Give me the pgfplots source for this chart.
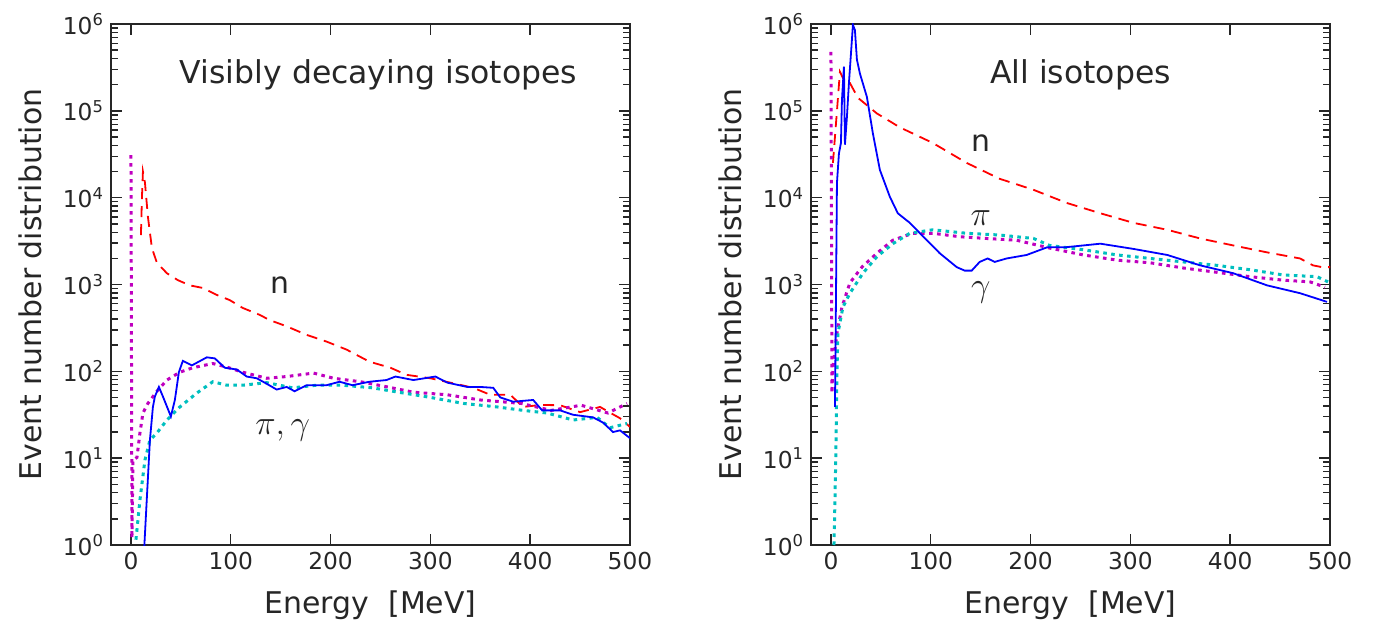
\documentclass[border=0pt]{standalone}
\usepackage{fontspec}
\setmainfont{DejaVu Sans}
\usepackage{pgfplots}
\pgfplotsset{compat=1.18}
\definecolor{axgray}{HTML}{262626}
\definecolor{mmag}{rgb}{0.75,0,0.75}
\definecolor{mcyan}{rgb}{0,0.75,0.75}

\pgfplotsset{
  evt/.style={
    scale only axis, width=259.5bp, height=260.5bp,
    xmin=-20, xmax=500, ymin=1, ymax=1e6,
    xtick={0,100,200,300,400,500},
    ytick={1,10,100,1000,10000,100000,1000000},
    yticklabels={10\textsuperscript{0},10\textsuperscript{1},10\textsuperscript{2},10\textsuperscript{3},10\textsuperscript{4},10\textsuperscript{5},10\textsuperscript{6}},
    minor ytick={2,3,4,5,6,7,8,9,20,30,40,50,60,70,80,90,200,300,400,500,600,700,800,900,
      2000,3000,4000,5000,6000,7000,8000,9000,20000,30000,40000,50000,60000,70000,80000,90000,
      200000,300000,400000,500000,600000,700000,800000,900000},
    tick align=inside, tick pos=both,
    major tick length=5.5bp, minor tick length=3.5bp,
    axis line style={axgray, line width=0.9bp},
    every tick/.append style={axgray, line width=0.7bp},
    tick label style={font=\fontsize{11.7}{14}\selectfont, text=axgray},
    label style={font=\fontsize{15}{18}\selectfont, text=axgray},
    /pgf/number format/assume math mode=true,
    xlabel={Energy\ \ [MeV]},
    ylabel={Event number distribution},
    ylabel style={at={(axis description cs:-0.156,0.5)}, anchor=center},
    xlabel style={at={(axis description cs:0.5,-0.115)}, anchor=center},
  },
  nline/.style={red, line width=0.9bp, dash pattern=on 5.5bp off 3.5bp},
  gline/.style={blue, line width=0.9bp},
  pline/.style={mmag, line width=1.5bp, dash pattern=on 1.8bp off 2.2bp},
  cline/.style={mcyan, line width=1.5bp, dash pattern=on 1.8bp off 2.2bp},
}
\tikzset{
  lab/.style={font=\fontsize{15}{18}\selectfont, text=axgray},
  ttl/.style={font=\fontsize{15.8}{19}\selectfont, text=axgray},
  mlab/.style={font=\fontsize{17.5}{20}\selectfont, text=axgray},
}

\begin{document}
\begin{tikzpicture}
\begin{axis}[ymode=log, evt]
  % neutrons
  \addplot[nline] coordinates {
    (10,3715)(11,10000)(12,19953)(14,15000)(17,6000)(21,2630)(26,1778)(36,1349)
    (47,1122)(59,977)(72,912)(86,759)(99,661)(112,537)(129,447)(139,389)(156,330)
    (176,263)(196,220)(216,178)(239,129)(260,110)(276,91.2)(300,83.2)(320,74.1)
    (343,64.6)(360,53.7)(380,53.7)(393,38.9)(410,41)(430,40.7)(450,33.9)(470,38.9)
    (490,28.8)(500,22.9)};
  % pions
  \addplot[pline] coordinates {
    (0,30903)(1,1.2)(2,9.5)(6,10.2)(9,19.5)(12,33.1)(17,42.7)(26,58.9)(36,79.4)
    (49,97.7)(62,110)(82,123)(96,112)(112,97.7)(136,83.2)(156,87.1)(183,95.5)
    (203,83.2)(230,75.9)(257,66.1)(283,57.5)(317,53.7)(350,46.8)(391,42.7)
    (421,35.5)(451,40.7)(478,33.1)(497,42.7)};
  \addplot[cline] coordinates {
    (5,1.15)(9,3.3)(14,9.5)(19,16.2)(26,19.5)(36,27.5)(49,38.9)(66,56.2)(82,75.9)
    (96,69.2)(112,69.2)(136,74.1)(162,64.6)(186,69.2)(212,69.2)(242,64.6)(266,58)
    (300,50.1)(333,42.7)(367,38.9)(393,35.5)(417,33.1)(443,27.5)(467,29.5)
    (480,22.4)(497,25.1)};
  % gammas
  \addplot[gline] coordinates {
    (13,0.8)(19,16.2)(22,38.9)(24,51.3)(28,66.1)(32,51.3)(40,30.2)(44,46.8)(48,97.7)
    (52,132)(61,117)(76,145)(84,141)(94,110)(106,105)(116,87.1)(126,83.2)(134,74.1)
    (146,61.7)(156,66.1)(164,58.9)(176,69.2)(196,69.2)(209,75.9)(222,69.2)
    (239,75.9)(256,79.4)(265,87.1)(283,79.4)(305,87.1)(317,74.1)(337,66.1)
    (350,66.1)(363,64.6)(370,50.1)(383,44.7)(403,46.8)(412,35.5)(430,35.5)
    (443,31.6)(463,29.5)(473,25.7)(483,20)(490,20.9)(500,17)};
  \node[ttl] at (axis cs:248,257000) {Visibly decaying isotopes};
  \node[lab] at (axis cs:149,977) {n};
  \node[mlab] at (axis cs:152,21) {$\pi,\gamma$};
\end{axis}

\begin{axis}[ymode=log, evt, at={(350bp,0)}, anchor=south west]
  \addplot[nline] coordinates {
    (2,25119)(9,281838)(14,213796)(19,208930)(27,141254)(46,93325)(69,64565)
    (102,42658)(136,25119)(169,16500)(203,12303)(236,8710)(270,6607)(303,5129)
    (337,4266)(370,3388)(403,2818)(437,2344)(470,1995)(483,1660)(492,1585)(500,1585)};
  \addplot[pline] coordinates {
    (0,478630)(1,56)(2,112)(6,275)(11,550)(19,1047)(31,1585)(46,2291)(62,3236)
    (82,3890)(102,3890)(129,3548)(156,3388)(186,3236)(219,2630)(253,2188)
    (287,1905)(320,1778)(353,1549)(387,1380)(420,1230)(453,1122)(480,1072)(495,933)};
  \addplot[cline] coordinates {
    (3,1)(4,3.2)(5,13.5)(6,100)(7,275)(12,550)(19,794)(32,1349)(46,2089)(62,2951)
    (79,3890)(102,4266)(136,3890)(169,3715)(203,3388)(219,2818)(253,2512)
    (287,2188)(320,1995)(353,1820)(387,1660)(420,1479)(453,1288)(487,1230)(498,1072)};
  \addplot[gline] coordinates {
    (4,38.9)(5,661)(6,14791)(8,32359)(10,42658)(11,131826)(13,323594)(14,40738)
    (16,85114)(18,208930)(21,660693)(22,977237)(24,851138)(26,389045)(29,269153)
    (36,144544)(42,54954)(49,20893)(59,10233)(67,6607)(79,5129)(96,3236)
    (109,2291)(126,1585)(134,1445)(141,1445)(149,1820)(157,1995)(164,1820)
    (176,1995)(196,2188)(217,2692)(236,2692)(270,2951)(303,2570)(337,2188)
    (370,1660)(403,1349)(437,977)(470,794)(497,631)};
  \node[ttl] at (axis cs:250,263000) {All isotopes};
  \node[lab] at (axis cs:150,42658) {n};
  \node[mlab] at (axis cs:150,5888) {$\pi$};
  \node[mlab] at (axis cs:150,813) {$\gamma$};
\end{axis}
\pgfresetboundingbox
\path[use as bounding box] (-55.5bp,-40.5bp) rectangle ++(690bp,313bp);
\end{tikzpicture}
\end{document}
